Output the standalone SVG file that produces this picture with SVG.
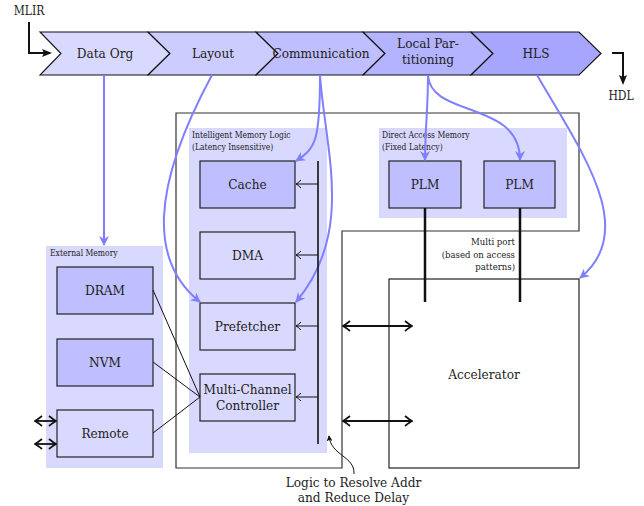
<svg xmlns="http://www.w3.org/2000/svg" width="644" height="506" viewBox="0 0 644 506" font-family="'DejaVu Serif Condensed', 'DejaVu Serif', serif">
<defs>
<style>
text{font-family:'DejaVu Serif Condensed','DejaVu Serif',serif;font-stretch:condensed;fill:#222}
.chev{stroke:#111;stroke-width:1.1}
.lbl{font-size:13.5px;text-anchor:middle}
.box{stroke:#222;stroke-width:1.2}
.dark{fill:#bfbfff}
.light{fill:#d9d9ff}
.panel{fill:#d9d9ff}
.small{font-size:8.5px}
.blue{fill:none;stroke:#7f7fff;stroke-width:2;marker-end:url(#bArr)}
.thin{fill:none;stroke:#111;stroke-width:1;marker-end:url(#oArr)}
.dbl{fill:none;stroke:#111;stroke-width:1.8;marker-start:url(#dArr);marker-end:url(#dArr)}
.thick{fill:none;stroke:#111;stroke-width:2.5}
</style>
<marker id="bArr" viewBox="0 0 10 10" refX="9" refY="5" markerWidth="11" markerHeight="10" markerUnits="userSpaceOnUse" orient="auto">
<path d="M0,0 L10,5 L0,10 L3,5 z" fill="#7f7fff"/>
</marker>
<marker id="oArr" viewBox="-7 -5 8 10" refX="0" refY="0" markerWidth="8" markerHeight="10" markerUnits="userSpaceOnUse" orient="auto">
<path d="M-5,-4 Q-2,-1 0,0 Q-2,1 -5,4" fill="none" stroke="#111" stroke-width="1"/>
</marker>
<marker id="dArr" viewBox="-9 -6 10 12" refX="0" refY="0" markerWidth="10" markerHeight="12" markerUnits="userSpaceOnUse" orient="auto-start-reverse">
<path d="M-7,-5 Q-2,-1 0,0 Q-2,1 -7,5" fill="none" stroke="#111" stroke-width="1.8"/>
</marker>
<marker id="kArr" viewBox="0 0 10 10" refX="8" refY="5" markerWidth="10" markerHeight="10" markerUnits="userSpaceOnUse" orient="auto">
<path d="M0,1 L10,5 L0,9 L2,5 z" fill="#111"/>
</marker>
<marker id="sArr" viewBox="0 0 8 8" refX="7" refY="4" markerWidth="6" markerHeight="6" markerUnits="userSpaceOnUse" orient="auto">
<path d="M0,0 L8,4 L0,8 L2,4 z" fill="#111"/>
</marker>
</defs>

<!-- pipeline chevrons -->
<g id="stage-dataorg">
<polygon class="chev" fill="#d9d9ff" points="40,32 148,32 170,53.5 148,75 40,75 61,53.5"/>
<text class="lbl" x="105" y="58">Data Org</text>
</g>
<g id="stage-layout">
<polygon class="chev" fill="#ccccff" points="148,32 256,32 278,53.5 256,75 148,75 170,53.5"/>
<text class="lbl" x="213" y="58">Layout</text>
</g>
<g id="stage-communication">
<polygon class="chev" fill="#bfbfff" points="256,32 363,32 385,53.5 363,75 256,75 278,53.5"/>
<text class="lbl" x="321" y="58">Communication</text>
</g>
<g id="stage-local">
<polygon class="chev" fill="#b3b3ff" points="363,32 471,32 493,53.5 471,75 363,75 385,53.5"/>
<text class="lbl" x="428" y="48">Local Par-</text>
<text class="lbl" x="428" y="64">titioning</text>
</g>
<g id="stage-hls">
<polygon class="chev" fill="#a6a6ff" points="471,32 579,32 601,53.5 579,75 471,75 493,53.5"/>
<text class="lbl" x="536" y="58">HLS</text>
</g>

<g id="mlir">
<text x="29" y="15" font-size="12" text-anchor="middle">MLIR</text>
</g>
<g id="hdl">
<text x="621" y="100" font-size="12" text-anchor="middle">HDL</text>
</g>

<!-- outer system box -->
<g id="system">
<polygon points="176,113 579,113 579,231 342,231 342,468 176,468" fill="none" stroke="#333" stroke-width="1.2"/>
</g>

<!-- External memory -->
<g id="external-memory">
<rect class="panel" x="46" y="246" width="117" height="222"/>
<text class="small" x="50" y="256" font-size="7.5">External Memory</text>
</g>
<g id="dram">
<rect class="box dark" x="57" y="267" width="96" height="47"/>
<text class="lbl" x="105" y="295" font-size="14">DRAM</text>
</g>
<g id="nvm">
<rect class="box dark" x="57" y="339" width="96" height="47"/>
<text class="lbl" x="105" y="367" font-size="14">NVM</text>
</g>
<g id="remote">
<rect class="box light" x="57" y="410" width="96" height="47"/>
<text class="lbl" x="105" y="438" font-size="14">Remote</text>
</g>

<!-- Intelligent memory logic -->
<g id="intelligent-memory">
<rect class="panel" x="189" y="128" width="138" height="325"/>
<text class="small" x="192" y="138">Intelligent Memory Logic</text>
<text class="small" x="192" y="149.5">(Latency Insensitive)</text>
</g>
<g id="cache">
<rect class="box dark" x="200" y="161" width="95" height="47"/>
<text class="lbl" x="247.5" y="189" font-size="14">Cache</text>
</g>
<g id="dma">
<rect class="box light" x="200" y="232" width="95" height="47"/>
<text class="lbl" x="247.5" y="260" font-size="14">DMA</text>
</g>
<g id="prefetcher">
<rect class="box light" x="200" y="303" width="95" height="47"/>
<text class="lbl" x="247.5" y="331" font-size="14">Prefetcher</text>
</g>
<g id="multichannel">
<rect class="box light" x="200" y="374" width="95" height="47"/>
<text class="lbl" x="247.5" y="394" font-size="12">Multi-Channel</text>
<text class="lbl" x="247.5" y="410" font-size="12">Controller</text>
</g>

<!-- Direct access memory -->
<g id="direct-access">
<rect class="panel" x="379" y="128" width="188" height="90"/>
<text class="small" x="382" y="138">Direct Access Memory</text>
<text class="small" x="382" y="149.5">(Fixed Latency)</text>
</g>
<g id="plm1">
<rect class="box dark" x="389" y="161" width="72" height="47"/>
<text class="lbl" x="425" y="189" font-size="14">PLM</text>
</g>
<g id="plm2">
<rect class="box dark" x="484" y="161" width="71" height="47"/>
<text class="lbl" x="519.5" y="189" font-size="14">PLM</text>
</g>

<g id="multiport">
<text x="515" y="245" font-size="9.5" text-anchor="end">Multi port</text>
<text x="515" y="257.5" font-size="9.5" text-anchor="end">(based on access</text>
<text x="515" y="270" font-size="9.5" text-anchor="end">patterns)</text>
</g>

<!-- accelerator -->
<g id="accelerator">
<rect x="389" y="279" width="190" height="189" fill="#fff" stroke="#222" stroke-width="1.2"/>
<text class="lbl" x="484" y="379" font-size="14">Accelerator</text>
</g>

<g id="note">
<text class="lbl" x="353.5" y="487" font-size="12.5">Logic to Resolve Addr</text>
<text class="lbl" x="353.5" y="502" font-size="12.5">and Reduce Delay</text>
</g>

<!-- connectors -->
<g id="connectors">
<path d="M29,22 L29,53 L50,53" fill="none" stroke="#111" stroke-width="2" marker-end="url(#kArr)"/>
<path d="M612,53 L623,53 L623,83" fill="none" stroke="#111" stroke-width="2" marker-end="url(#kArr)"/>

<path class="blue" d="M104,75 L104,245"/>
<path class="blue" d="M212,75 C150,190 150,262 200,302"/>
<path class="blue" d="M320,75 C320,140 316,148 296,161"/>
<path class="blue" d="M320,75 C325,150 355,232 296,302"/>
<path class="blue" d="M428,75 C428,110 425,130 425,160"/>
<path class="blue" d="M428,75 C430,118 520,100 520,160"/>
<path class="blue" d="M537,75 C580,150 640,230 580,278"/>

<line x1="318" y1="161" x2="318" y2="444" stroke="#111" stroke-width="1.6"/>
<path class="thin" d="M318,184 L296,184"/>
<path class="thin" d="M318,255 L296,255"/>
<path class="thin" d="M318,326 L296,326"/>
<path class="thin" d="M318,397 L296,397"/>

<line x1="153" y1="290" x2="200" y2="397" stroke="#111" stroke-width="1"/>
<line x1="153" y1="362" x2="200" y2="397" stroke="#111" stroke-width="1"/>
<line x1="153" y1="433" x2="200" y2="397" stroke="#111" stroke-width="1"/>

<path class="dbl" d="M35,421 L56,421"/>
<path class="dbl" d="M35,444 L56,444"/>
<path class="dbl" d="M343,326 L412,326"/>
<path class="dbl" d="M343,421 L412,421"/>

<line class="thick" x1="425" y1="208" x2="425" y2="302"/>
<line class="thick" x1="520" y1="208" x2="520" y2="302"/>

<path d="M354,474 C355,456 331,456 329,436" fill="none" stroke="#111" stroke-width="1" marker-end="url(#sArr)"/>
</g>
</svg>
